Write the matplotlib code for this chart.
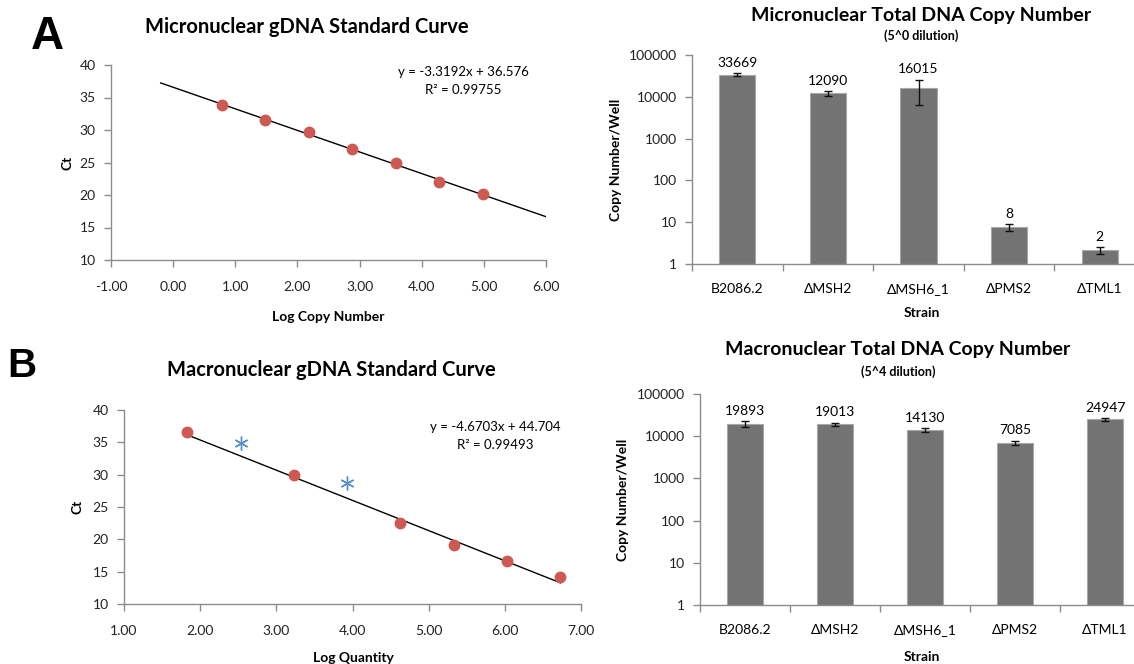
import matplotlib.pyplot as plt
import numpy as np

plt.rcParams["font.family"] = ["Lato", "DejaVu Sans"]
plt.rcParams["figure.dpi"] = 100

W, H = 1134, 664

# --- standard curve data ---
mic_x = [0.78, 1.48, 2.18, 2.88, 3.58, 4.28, 4.98]
mic_ct = [33.8, 31.6, 29.7, 27.1, 24.9, 22.0, 20.2]
mic_slope, mic_int = -3.3192, 36.576
mic_fit_range = [-0.2, 6.0]

mac_x = [1.83, 3.23, 4.63, 5.33, 6.03, 6.73]
mac_ct = [36.6, 29.9, 22.5, 19.2, 16.7, 14.2]
mac_out_x = [2.53, 3.93]
mac_out_ct = [34.9, 28.7]
mac_slope, mac_int = -4.6703, 44.704
mac_fit_range = [1.83, 6.73]

# --- copy number data ---
strains = ["B2086.2", "ΔMSH2", "ΔMSH6_1", "ΔPMS2", "ΔTML1"]
mic_copies = [33669, 12090, 16015, 7.6, 2.15]
mic_err = [2500, 1600, 9700, 1.4, 0.4]
mic_labels = ["33669", "12090", "16015", "8", "2"]
mac_copies = [19893, 19013, 14130, 7085, 24947]
mac_err = [3000, 2000, 1300, 800, 1600]
mac_labels = ["19893", "19013", "14130", "7085", "24947"]

RED = "#CD5A52"
BLUE = "#5B8FC9"
BAR = "#737373"
AXC = "#8C8C8C"


def rect(l, t, r, b):
    return [l / W, 1 - b / H, (r - l) / W, (b - t) / H]


def style_axes(ax):
    for s in ["top", "right"]:
        ax.spines[s].set_visible(False)
    for s in ["left", "bottom"]:
        ax.spines[s].set_color(AXC)
        ax.spines[s].set_linewidth(1)
    ax.tick_params(direction="out", length=5, width=1, color=AXC,
                   labelsize=10, labelcolor="#222222")
    ax.tick_params(axis="y", pad=6)


fig = plt.figure(figsize=(W / 100, H / 100))


def std_curve(pos, x, ct, slope, intercept, rng, xlim, xticks,
              eq, r2, eq_xy, out_x=None, out_ct=None):
    ax = fig.add_axes(rect(*pos))
    xs = np.array(rng)
    ax.plot(xs, slope * xs + intercept, color="black", lw=1, zorder=2)
    ax.plot(x, ct, "o", color=RED, ms=7.5, mec=RED, zorder=3, clip_on=False)
    if out_x is not None:
        ax.plot(out_x, out_ct, ls="none", marker=(6, 2, 0), ms=10,
                mec=BLUE, mew=1, zorder=3)
    ax.set_xlim(*xlim)
    ax.set_ylim(10, 40)
    ax.set_xticks(xticks)
    ax.set_xticklabels(["%.2f" % t for t in xticks])
    ax.set_yticks(range(10, 41, 5))
    style_axes(ax)
    ax.tick_params(axis="x", pad=10)
    fig.text(eq_xy[0] / W, 1 - eq_xy[1] / H, eq, ha="center", va="center",
             fontsize=9.5)
    fig.text(eq_xy[0] / W, 1 - (eq_xy[1] + 18) / H, r2, ha="center",
             va="center", fontsize=9.5)
    return ax


def copy_bars(pos, vals, err, labels):
    ax = fig.add_axes(rect(*pos))
    xpos = np.arange(len(strains))
    ax.bar(xpos, vals, width=0.4, color=BAR, edgecolor="#A8A8A8", lw=0.8,
           zorder=2)
    ax.errorbar(xpos, vals, yerr=err, fmt="none", ecolor="#111111",
                elinewidth=1, capsize=3, capthick=1, zorder=3)
    for xi, v, e, lab in zip(xpos, vals, err, labels):
        ax.annotate(lab, (xi, v + e), xytext=(0, 3), textcoords="offset points",
                    ha="center", va="bottom", fontsize=10)
    ax.set_yscale("log")
    ax.set_ylim(1, 100000)
    ax.set_yticks([1, 10, 100, 1000, 10000, 100000])
    ax.set_yticklabels(["1", "10", "100", "1000", "10000", "100000"])
    ax.minorticks_off()
    ax.set_xlim(-0.5, len(strains) - 0.5)
    ax.set_xticks(np.arange(len(strains) + 1) - 0.5)
    ax.set_xticklabels([])
    ax.set_xticks(xpos, minor=True)
    ax.set_xticklabels(strains, minor=True)
    style_axes(ax)
    ax.tick_params(axis="x", which="minor", length=0, pad=14, labelsize=10)
    return ax


std_curve((111, 65, 546, 260), mic_x, mic_ct, mic_slope, mic_int,
          mic_fit_range, (-1, 6), np.arange(-1, 6.01, 1),
          "y = -3.3192x + 36.576", "R² = 0.99755", (463, 72))
std_curve((124, 410, 581, 604), mac_x, mac_ct, mac_slope, mac_int,
          mac_fit_range, (1, 7), np.arange(1, 7.01, 1),
          "y = -4.6703x + 44.704", "R² = 0.99493", (495, 427),
          mac_out_x, mac_out_ct)
copy_bars((692, 55, 1145, 264), mic_copies, mic_err, mic_labels)
copy_bars((700, 394, 1150, 605), mac_copies, mac_err, mac_labels)


def ftext(x, y, s, **kw):
    fig.text(x / W, 1 - y / H, s, ha="center", va="center", **kw)


# panel letters
ftext(47, 37, "A", fontsize=33, fontweight="bold", family="Liberation Sans")
ftext(22, 366, "B", fontsize=29, fontweight="bold", family="Liberation Sans")

# titles
ftext(307, 27, "Micronuclear gDNA Standard Curve", fontsize=14.5, fontweight="bold")
ftext(331, 370, "Macronuclear gDNA Standard Curve", fontsize=14.5, fontweight="bold")
ftext(921, 15, "Micronuclear Total DNA Copy Number", fontsize=14, fontweight="bold")
ftext(921, 36, "(5^0 dilution)", fontsize=9, fontweight="bold")
ftext(898, 350, "Macronuclear Total DNA Copy Number", fontsize=14, fontweight="bold")
ftext(898, 372, "(5^4 dilution)", fontsize=9, fontweight="bold")

# axis labels
ftext(328, 317, "Log Copy Number", fontsize=10, fontweight="bold")
ftext(353, 658, "Log Quantity", fontsize=10, fontweight="bold")
ftext(67, 163, "Ct", fontsize=10, fontweight="bold", rotation=90)
ftext(78, 507, "Ct", fontsize=10, fontweight="bold", rotation=90)
ftext(616, 160, "Copy Number/Well", fontsize=10, fontweight="bold", rotation=90)
ftext(623, 500, "Copy Number/Well", fontsize=10, fontweight="bold", rotation=90)
ftext(922, 313, "Strain", fontsize=10, fontweight="bold")
ftext(922, 657, "Strain", fontsize=10, fontweight="bold")

fig.savefig("out.png", dpi=100, facecolor="white")
